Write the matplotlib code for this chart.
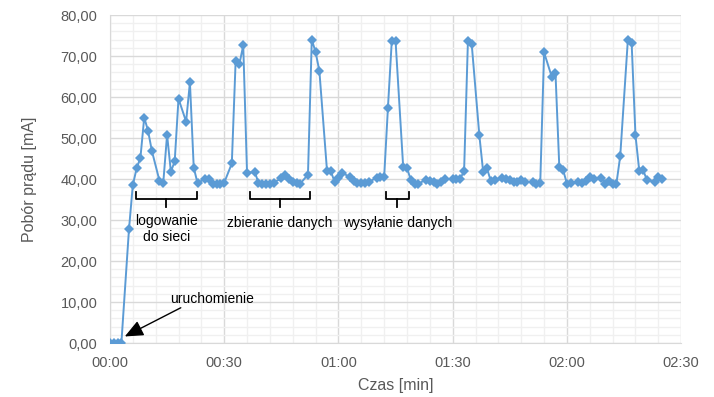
import matplotlib
matplotlib.use("Agg")
import matplotlib.pyplot as plt
from matplotlib.ticker import MultipleLocator, FuncFormatter

plt.rcParams['font.family'] = ['Liberation Sans', 'DejaVu Sans']

# czas [s] i pobor pradu [mA]
czas = [0, 1, 2, 3, 5, 6, 7, 8, 9, 10, 11, 13, 14, 15, 16, 17, 18, 20, 21, 22, 23,
        25, 26, 27, 28, 29, 30, 32, 33, 34, 35, 36, 38, 39, 40, 41, 42, 43, 45, 46,
        47, 48, 49, 50, 52, 53, 54, 55, 57, 58, 59, 60, 61, 63, 64, 65, 66, 67, 68,
        70, 71, 72, 73, 74, 75, 77, 78, 79, 80, 81, 83, 84, 85, 86, 87, 88, 90, 91,
        92, 93, 94, 95, 97, 98, 99, 100, 101, 103, 104, 105, 106, 107, 108, 109,
        111, 112, 113, 114, 116, 117, 118, 119, 120, 121, 123, 124, 125, 126, 127,
        129, 130, 131, 132, 133, 134, 136, 137, 138, 139, 140, 141, 143, 144, 145]
prad = [0, 0, 0, 0, 27.8, 38.5, 42.6, 45.2, 55.0, 51.8, 46.9, 39.6, 39.1, 50.8,
        41.8, 44.3, 59.6, 54.0, 63.6, 42.8, 39.0, 40.1, 39.9, 38.9, 38.9, 38.9,
        39.1, 43.8, 68.7, 68.1, 72.6, 41.5, 41.8, 39.1, 38.9, 38.9, 38.9, 39.1,
        40.2, 40.9, 40.0, 39.3, 39.1, 38.9, 41.1, 74.0, 71.0, 66.3, 42.0, 41.9,
        39.3, 40.3, 41.5, 40.5, 39.5, 39.1, 39.1, 39.1, 39.3, 40.3, 40.6, 40.4,
        57.4, 73.6, 73.7, 43.0, 42.7, 39.8, 38.9, 38.9, 39.8, 39.6, 39.4, 38.9,
        39.3, 39.9, 40.1, 39.9, 40.1, 42.0, 73.6, 72.9, 50.7, 41.8, 42.6, 39.6,
        39.8, 40.2, 40.1, 39.8, 39.2, 39.2, 39.8, 39.3, 39.3, 38.9, 39.1, 70.9,
        65.0, 65.8, 43.0, 42.2, 38.9, 39.1, 39.3, 39.1, 39.6, 40.4, 39.9, 40.3,
        38.9, 39.5, 38.9, 38.9, 45.6, 73.9, 73.1, 50.7, 42.0, 42.2, 39.8, 39.3,
        40.6, 39.9]

# opisy faz: (tekst, poczatek, koniec)
fazy = [("logowanie\ndo sieci", 6.8, 22.8),
        ("zbieranie danych", 36.8, 52.6),
        ("wysyłanie danych", 72.4, 78.5)]

fig = plt.figure(figsize=(7.14, 3.97), dpi=100)
ax = fig.add_axes([0.154, 0.136, 0.8, 0.826])

ax.plot(czas, prad, color='#5B9BD5', lw=1.4, marker='D', markersize=4.8,
        markeredgewidth=0, zorder=3)

ax.set_xlim(0, 150)
ax.set_ylim(0, 80)
ax.xaxis.set_major_locator(MultipleLocator(30))
ax.xaxis.set_minor_locator(MultipleLocator(6))
ax.yaxis.set_major_locator(MultipleLocator(10))
ax.yaxis.set_minor_locator(MultipleLocator(2))
ax.xaxis.set_major_formatter(FuncFormatter(lambda v, p: f"{int(v)//60:02d}:{int(v)%60:02d}"))
ax.yaxis.set_major_formatter(FuncFormatter(lambda v, p: f"{v:.2f}".replace('.', ',')))

ax.grid(which='major', color='#D9D9D9', lw=1.0)
ax.grid(which='minor', color='#F0F0F0', lw=1.0)
ax.set_axisbelow(True)
for s in ['top', 'right']:
    ax.spines[s].set_visible(False)
for s in ['left', 'bottom']:
    ax.spines[s].set_color('#D9D9D9')
ax.tick_params(which='both', length=0, labelsize=10.5, labelcolor='#595959')
ax.tick_params(axis='y', pad=9)
ax.tick_params(axis='x', pad=9)

ax.set_xlabel('Czas [min]', fontsize=11.5, color='#595959', labelpad=6)
ax.set_ylabel('Pobór prądu [mA]', fontsize=11.5, color='#595959', labelpad=17)

# klamry pod fazami
for tekst, a, b in fazy:
    m = (a + b) / 2
    ax.plot([a, a, b, b], [36.8, 35.1, 35.1, 36.8], color='black', lw=1.3, zorder=4)
    ax.plot([m, m], [35.1, 33.3], color='black', lw=1.3, zorder=4)
    ax.text(m, 29.3 if '\n' not in tekst else 27.8, tekst, ha='center', va='center',
            fontsize=10, linespacing=1.25)

ax.text(26.8, 10.7, 'uruchomienie', ha='center', va='center', fontsize=10)
ax.annotate('', xy=(3.9, 1.6), xytext=(18.6, 8.6),
            arrowprops=dict(arrowstyle='-|>,head_length=0.8,head_width=0.35',
                            color='black', lw=1, mutation_scale=14,
                            shrinkA=0, shrinkB=0))

fig.savefig('out.png', dpi=100)
